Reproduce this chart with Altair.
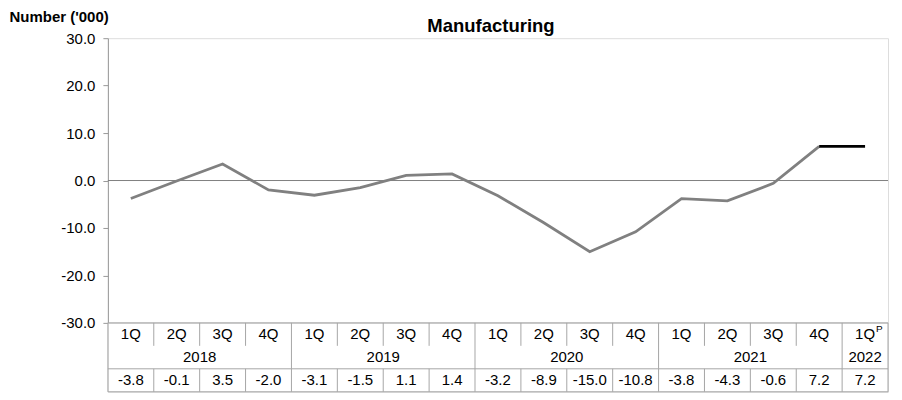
import altair as alt
import pandas as pd

# ---- data ----
quarters = ["1Q", "2Q", "3Q", "4Q", "1Q", "2Q", "3Q", "4Q", "1Q", "2Q", "3Q", "4Q",
            "1Q", "2Q", "3Q", "4Q", "1Q"]
superscripts = [""] * 16 + ["P"]
years = ["2018"] * 4 + ["2019"] * 4 + ["2020"] * 4 + ["2021"] * 4 + ["2022"]
values = [-3.8, -0.1, 3.5, -2.0, -3.1, -1.5, 1.1, 1.4, -3.2, -8.9, -15.0, -10.8,
          -3.8, -4.3, -0.6, 7.2, 7.2]
y_ticks = [-30, -20, -10, 0, 10, 20, 30]
chart_title = "Manufacturing"
y_title = "Number ('000)"
series_names = ["Published", "Preliminary"]

FONT = "Liberation Sans"
W = 781
H_PLOT = 285
H_TABLE = 69
n = len(values)
GRID = "#a6a6a6"
HYPHEN_FMT = "replace(format(datum.value, '.1f'), '\u2212', '-')"

# ---- line data: gray published series, black preliminary last segment ----
line_rows = [{"pos": i + 0.5, "value": v, "series": series_names[0]}
             for i, v in enumerate(values[:-1])]
line_rows += [{"pos": n - 1.5, "value": values[-2], "series": series_names[1]},
              {"pos": n - 0.5, "value": values[-1], "series": series_names[1]}]
line_df = pd.DataFrame(line_rows)

x_scale = alt.Scale(domain=[0, n], nice=False, zero=False)
y_scale = alt.Scale(domain=[-30, 30], nice=False)
y_axis = alt.Axis(values=y_ticks, labelExpr=HYPHEN_FMT, title=y_title, titleAngle=0,
                  titleX=-99, titleY=-17, titleAlign="left", titleBaseline="alphabetic",
                  titleFont=FONT, titleFontSize=15, titleFontWeight="bold",
                  titleColor="black", labelFont=FONT, labelFontSize=15,
                  labelColor="black", labelPadding=8, tickSize=5, tickColor="#999999",
                  domainColor="#999999", grid=False)

zero_df = pd.DataFrame({"value": [0]})
zero_rule = alt.Chart(zero_df).mark_rule(color="#808080", strokeWidth=1).encode(
    y=alt.Y("value:Q", scale=y_scale, axis=y_axis))

line = alt.Chart(line_df).mark_line(strokeWidth=2.8, strokeCap="butt").encode(
    x=alt.X("pos:Q", scale=x_scale, axis=None),
    y=alt.Y("value:Q", scale=y_scale, axis=y_axis),
    color=alt.Color("series:N", scale=alt.Scale(domain=series_names,
                                                range=["#808080", "#000000"]), legend=None),
    detail="series:N")

top = alt.layer(zero_rule, line).properties(
    width=W, height=H_PLOT,
    title=alt.TitleParams(text=chart_title, font=FONT, fontSize=18.5, fontWeight="bold",
                          color="black", anchor="middle", frame="group", offset=0,
                          dx=-7, dy=41, baseline="alphabetic"))

# ---- table below the plot ----
q_df = pd.DataFrame({"pos": [i + 0.5 for i in range(n)], "quarter": quarters,
                     "sup": superscripts, "year": years, "value": values})
year_df = q_df.groupby("year", as_index=False)["pos"].mean()

ty_scale = alt.Scale(domain=[0, 3], nice=False, zero=False)

q_df["row_q"] = 2.5
q_df["row_v"] = 0.5
year_df["row_y"] = 1.5

txt = dict(font=FONT, fontSize=15, color="black", baseline="middle", align="center")

q_text = alt.Chart(q_df).mark_text(**txt).encode(
    x=alt.X("pos:Q", scale=x_scale, axis=None),
    y=alt.Y("row_q:Q", scale=ty_scale, axis=None),
    text="quarter:N")
sup_text = alt.Chart(q_df).mark_text(font=FONT, fontSize=10, color="black",
                                     baseline="middle", align="left", dx=11, dy=-5).encode(
    x=alt.X("pos:Q", scale=x_scale, axis=None),
    y=alt.Y("row_q:Q", scale=ty_scale, axis=None),
    text="sup:N")
y_text = alt.Chart(year_df).mark_text(**txt).encode(
    x=alt.X("pos:Q", scale=x_scale, axis=None),
    y=alt.Y("row_y:Q", scale=ty_scale, axis=None),
    text="year:N")
v_text = alt.Chart(q_df).transform_calculate(label=HYPHEN_FMT).mark_text(**txt).encode(
    x=alt.X("pos:Q", scale=x_scale, axis=None),
    y=alt.Y("row_v:Q", scale=ty_scale, axis=None),
    text="label:N")

# table grid lines derived from the category structure
segs = []
for yy in [3, 1, 0]:
    segs.append({"x": 0, "x2": n, "y": yy, "y2": yy})
segs.append({"x": 0, "x2": 0, "y": 0, "y2": 3})
segs.append({"x": n, "x2": n, "y": 0, "y2": 3})
for i in range(1, n):
    top_y = 1 if years[i] != years[i - 1] else 2
    segs.append({"x": i, "x2": i, "y": top_y, "y2": 3})
    segs.append({"x": i, "x2": i, "y": 0, "y2": 1})
seg_df = pd.DataFrame(segs)

grid = alt.Chart(seg_df).mark_rule(color=GRID, strokeWidth=1).encode(
    x=alt.X("x:Q", scale=x_scale, axis=None), x2="x2:Q",
    y=alt.Y("y:Q", scale=ty_scale, axis=None), y2="y2:Q")

bottom = alt.layer(grid, q_text, sup_text, y_text, v_text).properties(
    width=W, height=H_TABLE)

chart = alt.vconcat(top, bottom, spacing=0, bounds="flush").properties(
    padding={"left": 8, "top": 8, "right": 13, "bottom": 4}
).configure_view(stroke=None).configure(font=FONT)

chart.save("out.html", embed_options={"renderer": "svg", "actions": False})
